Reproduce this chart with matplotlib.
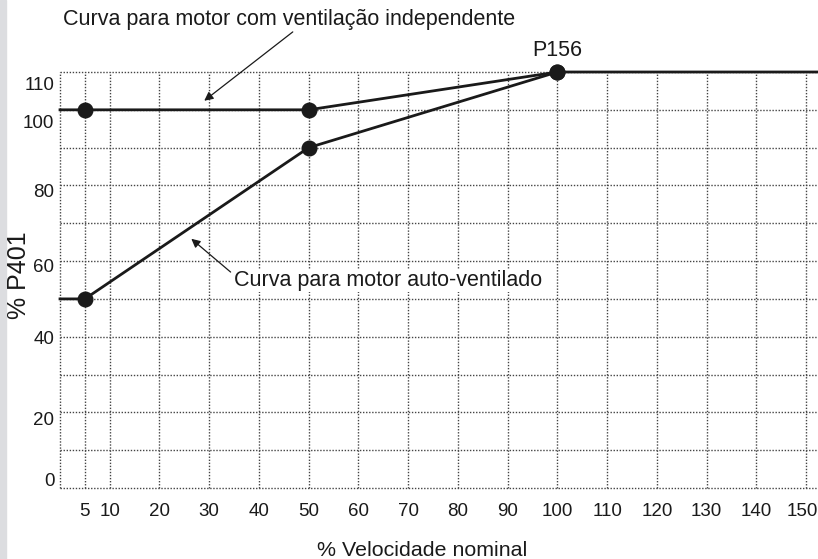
### Curvas de sobrecarga do motor (P401 vs velocidade) ###
import matplotlib
matplotlib.use('Agg')
import matplotlib.pyplot as plt
from matplotlib.patches import Rectangle
from matplotlib.transforms import ScaledTranslation

plt.rcParams['font.family'] = ['Liberation Sans', 'DejaVu Sans']

##### dados #####
# motor com ventilacao independente
vel_indep = [0, 5, 50, 100, 152.4]
p401_indep = [100, 100, 100, 110, 110]
# motor auto-ventilado
vel_auto = [0, 5, 50, 100]
p401_auto = [50, 50, 90, 110]
# pontos marcados (indices nas listas acima)
marcas_indep = [1, 2, 3]
marcas_auto = [1, 2, 3]

x_ticks = [5, 10, 20, 30, 40, 50, 60, 70, 80, 90, 100, 110, 120, 130, 140, 150]
y_ticks = [0, 20, 40, 60, 80, 100, 110]
y_grid = list(range(0, 111, 10))
# deslocamento vertical dos rotulos do eixo y (pixels, para baixo)
y_label_shift = [-8, 6, 1, 4, 5, 12, 11]

##### figura #####
W, H = 818, 559
fig = plt.figure(figsize=(W / 100, H / 100), dpi=100)
fig.patches.append(Rectangle((0, 0), 6 / W, 1, transform=fig.transFigure,
                             color='#dcdde0', zorder=0))

ax = fig.add_axes([60 / W, (H - 488) / H, (W - 60) / W, (488 - 72) / H])
ax.set_xlim(0, 152.4)
ax.set_ylim(0, 110)

# grade pontilhada (a moldura tambem e pontilhada)
grid_style = dict(color='#444444', lw=1.0, ls=(0, (1, 1.2)), zorder=1, clip_on=False)
for gx in [0] + x_ticks:
    ax.axvline(gx, **grid_style)
for gy in y_grid:
    ax.axhline(gy, **grid_style)
for side in ax.spines:
    ax.spines[side].set_visible(False)

# curvas
ax.plot(vel_indep, p401_indep, color='#1a1a1a', lw=2.0, marker='o', ms=10.5,
        markevery=marcas_indep, clip_on=False, zorder=3)
ax.plot(vel_auto, p401_auto, color='#1a1a1a', lw=2.0, marker='o', ms=10.5,
        markevery=marcas_auto, clip_on=False, zorder=3)

ax.set_xticks(x_ticks)
ax.set_yticks(y_ticks)
ax.tick_params(axis='both', length=0, labelsize=13.5, colors='#1a1a1a')
ax.tick_params(axis='x', pad=11)
ax.tick_params(axis='y', pad=4)
for lbl, dy in zip(ax.get_yticklabels(), y_label_shift):
    lbl.set_transform(lbl.get_transform() +
                      ScaledTranslation(0, -dy / 100, fig.dpi_scale_trans))
last = ax.get_xticklabels()[-1]
last.set_transform(last.get_transform() +
                   ScaledTranslation(-4 / 100, 0, fig.dpi_scale_trans))

# titulos dos eixos
fig.text(422 / W, 1 - 550 / H, '% Velocidade nominal', fontsize=15.4,
         ha='center', va='center', color='#1a1a1a')
fig.text(19 / W, 1 - 275 / H, '% P401', fontsize=18, rotation=90,
         ha='center', va='center', color='#1a1a1a')

# anotacoes
arrow = dict(arrowstyle='-|>', color='#1a1a1a', lw=0.9, mutation_scale=13,
             shrinkA=0, shrinkB=0)
ax.annotate('', xy=(29, 102.4), xytext=(46.8, 120.6), arrowprops=arrow,
            annotation_clip=False)
ax.text(0.6, 123.8, 'Curva para motor com ventilação independente', fontsize=15.5,
        ha='left', va='center', color='#1a1a1a')
ax.annotate('', xy=(26.4, 65.9), xytext=(34.3, 57.1), arrowprops=arrow)
ax.text(35, 54.8, 'Curva para motor auto-ventilado', fontsize=15.5,
        ha='left', va='center', color='#1a1a1a',
        bbox=dict(facecolor='white', edgecolor='none', pad=0.5))
ax.text(100, 115.8, 'P156', fontsize=15.5, ha='center', va='center', color='#1a1a1a')

fig.savefig('out.png', dpi=100)
